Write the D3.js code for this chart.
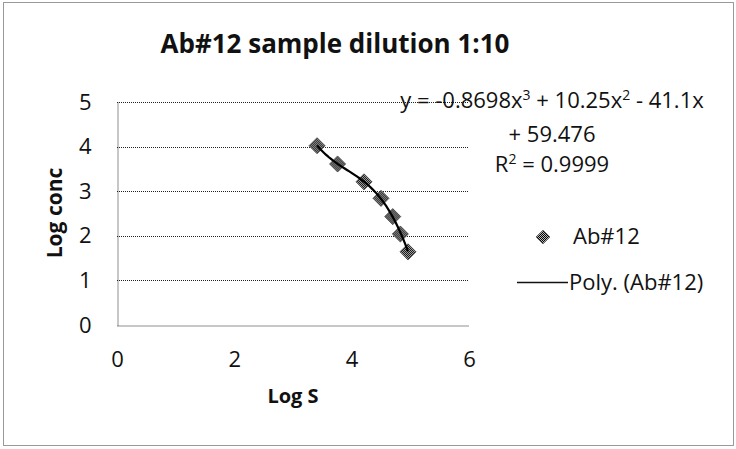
<!DOCTYPE html>
<html>
<head>
<meta charset="utf-8">
<script src="https://cdn.jsdelivr.net/npm/d3@7/dist/d3.min.js"></script>
<style>
  html, body { margin: 0; padding: 0; background: #fff; }
  svg { display: block; }
  text { font-family: "Open Sans", "Noto Sans", sans-serif; fill: #111; }
</style>
</head>
<body>
<svg id="chart" width="736" height="449"></svg>
<script>
// ---- data ----
const logS = [3.41, 3.76, 4.21, 4.50, 4.70, 4.83, 4.96];
const logConc = [4.02, 3.61, 3.21, 2.84, 2.43, 2.04, 1.64];
const polyCoef = [-0.8698, 10.25, -41.1, 59.476]; // x^3, x^2, x, const (trendline shown on chart)
const xTicks = [0, 2, 4, 6];
const yTicks = [0, 1, 2, 3, 4, 5];
const seriesName = "Ab#12";
const trendName = "Poly. (Ab#12)";
const titleText = "Ab#12 sample dilution 1:10";
const xTitle = "Log S";
const yTitle = "Log conc";

const svg = d3.select("#chart");
const W = 736, H = 449;
const plot = { left: 117, right: 469, top: 102, bottom: 325 };
const FONT = "\"Open Sans\", \"Noto Sans\", sans-serif";
const FS = 22;

// pattern for dithered marker
const defs = svg.append("defs");
const pat = defs.append("pattern").attr("id", "checker")
  .attr("width", 2).attr("height", 2).attr("patternUnits", "userSpaceOnUse");
pat.append("rect").attr("width", 2).attr("height", 2).attr("fill", "#bbb");
pat.append("rect").attr("x", 0).attr("y", 0).attr("width", 1).attr("height", 1).attr("fill", "#000");
pat.append("rect").attr("x", 1).attr("y", 1).attr("width", 1).attr("height", 1).attr("fill", "#000");

// outer border
svg.append("rect").attr("x", 3.5).attr("y", 2.5).attr("width", W - 6).attr("height", 443)
  .attr("fill", "none").attr("stroke", "#333").attr("stroke-width", 1).attr("stroke-dasharray", "1,1");

const x = d3.scaleLinear().domain([0, 6]).range([plot.left, plot.right]);
const y = d3.scaleLinear().domain([0, 5]).range([plot.bottom, plot.top]);

// gridlines
svg.append("g").selectAll("line").data(yTicks.filter(d => d > 0)).join("line")
  .attr("x1", plot.left).attr("x2", plot.right)
  .attr("y1", d => Math.round(y(d)) + 0.5).attr("y2", d => Math.round(y(d)) + 0.5)
  .attr("stroke", "#222").attr("stroke-dasharray", "1,1");

// axes
const yAxis = svg.append("g").attr("transform", `translate(${plot.left + 0.5},0)`)
  .call(d3.axisLeft(y).tickValues(yTicks).tickSize(0).tickPadding(26).tickFormat(d3.format("d")));
const xAxis = svg.append("g").attr("transform", `translate(0,${plot.bottom + 0.5})`)
  .call(d3.axisBottom(x).tickValues(xTicks).tickSize(0).tickPadding(26).tickFormat(d3.format("d")));
[yAxis, xAxis].forEach(g => {
  g.select(".domain").attr("stroke", "#222").attr("stroke-dasharray", "1,1");
  g.selectAll("text").style("font-family", FONT).style("font-size", FS + "px").attr("fill", "#111");
});

// title
svg.append("text").attr("x", 335).attr("y", 53).attr("text-anchor", "middle")
  .style("font-size", "26px").style("font-weight", "bold").text(titleText);
// axis titles
svg.append("text").attr("x", (plot.left + plot.right) / 2).attr("y", 403).attr("text-anchor", "middle")
  .style("font-size", "20px").style("font-weight", "bold").text(xTitle);
svg.append("text").attr("transform", "translate(62,213) rotate(-90)").attr("text-anchor", "middle")
  .style("font-size", "21px").style("font-weight", "bold").text(yTitle);

// trendline from the chart's polynomial
const poly = v => ((polyCoef[0] * v + polyCoef[1]) * v + polyCoef[2]) * v + polyCoef[3];
const xs = d3.range(d3.min(logS), d3.max(logS) + 1e-9, (d3.max(logS) - d3.min(logS)) / 60);

// markers
const diamond = d3.symbol().type(d3.symbolDiamond2).size(165);
svg.append("g").selectAll("path").data(logS.map((d, i) => [d, logConc[i]])).join("path")
  .attr("d", diamond)
  .attr("transform", d => `translate(${x(d[0])},${y(d[1])})`)
  .attr("fill", "url(#checker)").attr("stroke", "#333").attr("stroke-width", 0.7);

svg.append("path").datum(xs)
  .attr("d", d3.line().x(d => x(d)).y(d => y(poly(d))))
  .attr("fill", "none").attr("stroke", "#000").attr("stroke-width", 2.2);

// equation
const eq = svg.append("text").attr("text-anchor", "middle").style("font-size", FS + "px");
const l1 = eq.append("tspan").attr("x", 552).attr("y", 108);
l1.append("tspan").text("y = -0.8698x");
l1.append("tspan").attr("dy", -8).style("font-size", "14px").text("3");
l1.append("tspan").attr("dy", 8).text(" + 10.25x");
l1.append("tspan").attr("dy", -8).style("font-size", "14px").text("2");
l1.append("tspan").attr("dy", 8).text(" - 41.1x");
eq.append("tspan").attr("x", 552).attr("y", 142).text("+ 59.476");
const r2 = svg.append("text").attr("x", 552).attr("y", 172).attr("text-anchor", "middle").style("font-size", FS + "px");
r2.append("tspan").text("R");
r2.append("tspan").attr("dy", -8).style("font-size", "14px").text("2");
r2.append("tspan").attr("dy", 8).text(" = 0.9999");

// legend
svg.append("path").attr("d", d3.symbol().type(d3.symbolDiamond2).size(120))
  .attr("transform", "translate(543,237)").attr("fill", "url(#checker)").attr("stroke", "#333").attr("stroke-width", 0.7);
svg.append("text").attr("x", 573).attr("y", 244).style("font-size", FS + "px").text(seriesName);
svg.append("line").attr("x1", 517).attr("x2", 568).attr("y1", 282.5).attr("y2", 282.5)
  .attr("stroke", "#111").attr("stroke-width", 1.5);
svg.append("text").attr("x", 569).attr("y", 290).style("font-size", FS + "px").text(trendName);
</script>
</body>
</html>
